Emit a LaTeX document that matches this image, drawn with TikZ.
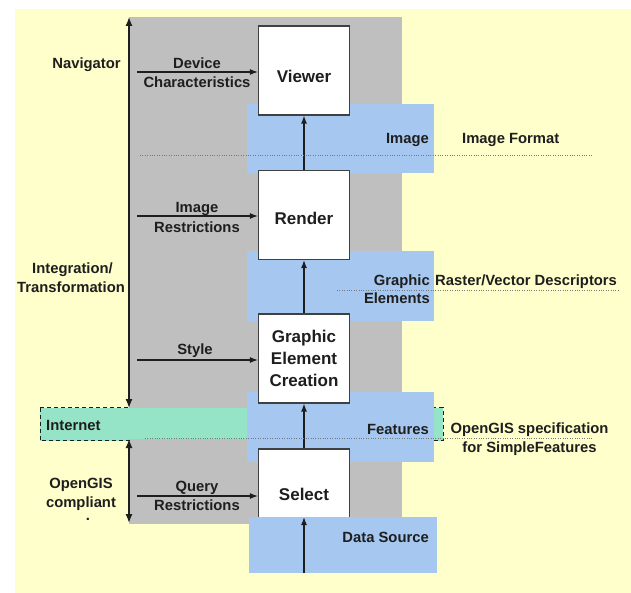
\documentclass[tikz,border=0pt]{standalone}
\usepackage{fontspec}
\setmainfont{Liberation Sans}
\usetikzlibrary{arrows.meta}
\definecolor{paper}{HTML}{FFFFCC}
\definecolor{panel}{HTML}{BFBFBF}
\definecolor{layer}{HTML}{A6C8F0}
\definecolor{net}{HTML}{96E4C8}
\definecolor{ink}{HTML}{1E1E1E}
\begin{document}
\begin{tikzpicture}[x=1pt,y=-1pt,
  lbl/.style={font=\fontsize{14.8}{17}\selectfont\bfseries, text=ink, inner sep=0pt},
  box/.style={draw=ink!85, line width=1.2pt, fill=white, minimum width=91pt,
    minimum height=89pt, font=\fontsize{17}{22}\selectfont\bfseries, text=ink,
    inner sep=0pt, align=center},
  flow/.style={-{Latex[length=8pt,width=6pt]}, line width=1.2pt, draw=ink},
  span/.style={{Latex[length=9pt,width=7pt]}-{Latex[length=9pt,width=7pt]}, line width=1.3pt, draw=ink},
  dots/.style={dash pattern=on 0.8pt off 1.6pt, line width=0.9pt, draw=ink!60}]

\useasboundingbox (0,0) rectangle (631,593);
\fill[white] (0,0) rectangle (631,593);
\fill[paper] (15,9) rectangle (631,593);

% grey processing column
\fill[panel] (129,17) rectangle (402,524);

% internet band; its dashed outline shows only outside the grey column
\draw[ink, fill=net, dash pattern=on 4pt off 3pt, line width=1pt] (40,407.5) rectangle (443,440.5);
\fill[panel] (129.7,406.5) rectangle (402,408.2);
\fill[panel] (129.7,439.3) rectangle (402,441.5);

% data layers between the stages
\fill[layer] (247,104) rectangle (434,173);
\fill[layer] (247,251) rectangle (434,321);
\fill[layer] (247,392) rectangle (434,462);

% processing stages
\node[box, text height=25pt, text depth=0pt] (viewer) at (304,70.5) {Viewer};
\node[box, text height=20pt, text depth=0pt] (render) at (304,215) {Render};
\node[box] (gec) at (304,358.5) {Graphic\\Element\\Creation};
\node[box, minimum height=91pt] (select) at (304,494.5) {Select};

% data source layer sits over the select box
\fill[layer] (249,517) rectangle (437,573);

% flow between stages
\draw[flow] (render.north) -- (viewer.south);
\draw[flow] (gec.north) -- (render.south);
\draw[flow] (select.north) -- (gec.south);
\coordinate (dsbase) at (304,573);
\coordinate (dstop) at (304,517);
\draw[flow] (dsbase) -- (dstop);

% inputs from the left
\coordinate (dcin) at (137,72);
\coordinate (irin) at (137,216);
\coordinate (stin) at (137,360);
\coordinate (qrin) at (137,496);
\draw[flow] (dcin) -- (dcin -| viewer.west);
\draw[flow] (irin) -- (irin -| render.west);
\draw[flow] (stin) -- (stin -| gec.west);
\draw[flow] (qrin) -- (qrin -| select.west);

\node[lbl, anchor=base] (dc1) at (197,69) {Device};
\node[lbl, anchor=base] (dc2) at (197,88) {Characteristics};
\node[lbl, anchor=base] (ir1) at (197,213) {Image};
\node[lbl, anchor=base] (ir2) at (197,233) {Restrictions};
\node[lbl, anchor=base] (st1) at (195,354) {Style};
\node[lbl, anchor=base] (qr1) at (197,491) {Query};
\node[lbl, anchor=base] (qr2) at (197,510) {Restrictions};

% side spans
\coordinate (navtop) at (129,17);
\coordinate (navbot) at (129,408);
\coordinate (ogtop) at (129,439);
\coordinate (ogbot) at (129,523);
\draw[span] (navtop) -- (navbot);
\draw[span] (ogtop) -- (ogbot);

% dotted separators
\draw[dots] (140,155) -- (593,155);
\draw[dots] (337,290) -- (618,290);
\draw[dots] (145,438) -- (592,438);

% layer names
\node[lbl, anchor=base east] (img) at (429,144) {Image};
\node[lbl, anchor=base west] (imgfmt) at (462,144) {Image Format};
\node[lbl, anchor=base east] (ge1) at (430,286) {Graphic};
\node[lbl, anchor=base east] (ge2) at (430,304) {Elements};
\node[lbl, anchor=base west] (rvd) at (435,286) {Raster/Vector Descriptors};
\node[lbl, anchor=base east] (feat) at (429,434) {Features};
\node[lbl, anchor=base] (spec1) at (529.5,433) {OpenGIS specification};
\node[lbl, anchor=base] (spec2) at (529.5,452) {for SimpleFeatures};
\node[lbl, anchor=base east] (ds) at (429,542) {Data Source};

% left labels
\node[lbl, anchor=base] (nav) at (86.5,69) {Navigator};
\node[lbl, anchor=base] (int1) at (72.5,273) {Integration/};
\node[lbl, anchor=base] (int2) at (71,292) {Transformation};
\node[lbl, anchor=base west] (inet) at (46,430) {Internet};
\node[lbl, anchor=base] (og1) at (81,488) {OpenGIS};
\node[lbl, anchor=base] (og2) at (81,507) {compliant};
\node[lbl, anchor=base] (og3) at (88,520) {.};
\end{tikzpicture}
\end{document}
